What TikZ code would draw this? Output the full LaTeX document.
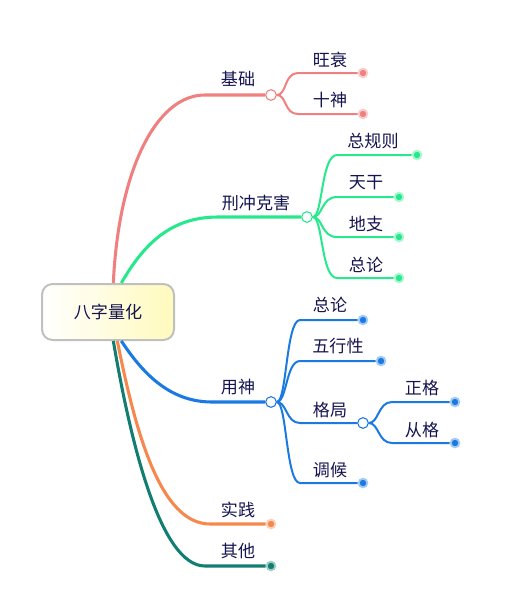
\documentclass[tikz,border=0pt]{standalone}
\usepackage{fontspec}
\setmainfont{Noto Sans CJK SC}
\definecolor{jcred}{RGB}{240,128,128}
\definecolor{xcgreen}{RGB}{40,232,140}
\definecolor{ysblue}{RGB}{26,122,226}
\definecolor{sjorange}{RGB}{246,136,78}
\definecolor{qtteal}{RGB}{18,125,115}
\definecolor{ink}{RGB}{20,20,80}
\definecolor{rootgray}{RGB}{192,192,192}
\definecolor{rootyellow}{RGB}{255,250,188}

\begin{document}
\begin{tikzpicture}[x=0.75pt,y=-0.75pt,
   lbl/.style={text=ink,font=\fontsize{12.8}{15}\selectfont,inner sep=0pt},
   knob/.style={circle,draw=#1,fill=white,line width=0.8pt,minimum size=8pt,inner sep=0pt},
   leaf/.style={circle,fill=#1,draw=#1!40,line width=1.4pt,minimum size=6.5pt,inner sep=0pt},
   trunk/.style={#1,line width=2.3pt},
   twig/.style={#1,line width=1.5pt}]
   \useasboundingbox (0,0) rectangle (530,600);
   \node[lbl,draw=rootgray,line width=1.5pt,rounded corners=8pt,left color=white,right color=rootyellow,
         minimum width=99pt,minimum height=42pt] (root) at (108,312) {八字量化};
   % first level
   \node[knob=jcred]   (jc) at (271,95)  {};
   \node[knob=xcgreen] (xc) at (307,217) {};
   \node[knob=ysblue]  (ys) at (271,402) {};
   \node[leaf=sjorange] (sj) at (271,524) {};
   \node[leaf=qtteal]   (qt) at (271,566) {};
   \coordinate (jc-b) at (205,95);
   \coordinate (xc-b) at (218,217);
   \coordinate (ys-b) at (212,402);
   \coordinate (sj-b) at (210,524);
   \coordinate (qt-b) at (205,566);
   \draw[trunk=jcred]    ([xshift=4pt]root.north) .. controls +(5,-110) and +(-50,0) .. (jc-b) -- (jc);
   \draw[trunk=xcgreen]  ([xshift=10pt]root.north) .. controls +(22,-38) and +(-48,0) .. (xc-b) -- (xc);
   \draw[trunk=ysblue]   ([xshift=10pt]root.south) .. controls +(20,30) and +(-44,0) .. (ys-b) -- (ys);
   \draw[trunk=sjorange] ([xshift=7pt]root.south) .. controls +(18,90) and +(-50,0) .. (sj-b) -- (sj);
   \draw[trunk=qtteal]   ([xshift=4pt]root.south) .. controls +(17,100) and +(-45,0) .. (qt-b) -- (qt);
   \node[lbl] (jc-t) at (238,79)  {基础};
   \node[lbl] (xc-t) at (256,203) {刑冲克害};
   \node[lbl] (ys-t) at (238,387) {用神};
   \node[lbl] (sj-t) at (238,510) {实践};
   \node[lbl] (qt-t) at (238,551) {其他};
   % 基础
   \node[leaf=jcred] (jc-1) at (363,73)  {};
   \node[leaf=jcred] (jc-2) at (363,114) {};
   \coordinate (jc-1b) at (298,73);
   \coordinate (jc-2b) at (298,114);
   \draw[twig=jcred] (jc.east) .. controls +(10,0) and +(-14,0) .. (jc-1b) -- (jc-1);
   \draw[twig=jcred] (jc.east) .. controls +(10,0) and +(-14,0) .. (jc-2b) -- (jc-2);
   \node[lbl] (jc-1t) at (330,60)  {旺衰};
   \node[lbl] (jc-2t) at (330,100) {十神};
   % 刑冲克害
   \node[leaf=xcgreen] (xc-1) at (417,155) {};
   \node[leaf=xcgreen] (xc-2) at (399,197) {};
   \node[leaf=xcgreen] (xc-3) at (399,237) {};
   \node[leaf=xcgreen] (xc-4) at (399,278) {};
   \coordinate (xc-1b) at (337,155);
   \coordinate (xc-2b) at (337,197);
   \coordinate (xc-3b) at (337,237);
   \coordinate (xc-4b) at (337,278);
   \draw[twig=xcgreen] (xc.east) .. controls +(10,0) and +(-16,0) .. (xc-1b) -- (xc-1);
   \draw[twig=xcgreen] (xc.east) .. controls +(10,0) and +(-16,0) .. (xc-2b) -- (xc-2);
   \draw[twig=xcgreen] (xc.east) .. controls +(10,0) and +(-16,0) .. (xc-3b) -- (xc-3);
   \draw[twig=xcgreen] (xc.east) .. controls +(10,0) and +(-16,0) .. (xc-4b) -- (xc-4);
   \node[lbl] (xc-1t) at (373,141) {总规则};
   \node[lbl] (xc-2t) at (366,183) {天干};
   \node[lbl] (xc-3t) at (366,224) {地支};
   \node[lbl] (xc-4t) at (366,265) {总论};
   % 用神
   \node[leaf=ysblue] (ys-1) at (363,320) {};
   \node[leaf=ysblue] (ys-2) at (381,361) {};
   \node[knob=ysblue] (gj)   at (363,423) {};
   \node[leaf=ysblue] (ys-4) at (363,483) {};
   \coordinate (ys-1b) at (300,320);
   \coordinate (ys-2b) at (300,361);
   \coordinate (ys-3b) at (300,423);
   \coordinate (ys-4b) at (300,483);
   \draw[twig=ysblue] (ys.east) .. controls +(10,0) and +(-14,0) .. (ys-1b) -- (ys-1);
   \draw[twig=ysblue] (ys.east) .. controls +(10,0) and +(-14,0) .. (ys-2b) -- (ys-2);
   \draw[twig=ysblue] (ys.east) .. controls +(10,0) and +(-14,0) .. (ys-3b) -- (gj);
   \draw[twig=ysblue] (ys.east) .. controls +(10,0) and +(-14,0) .. (ys-4b) -- (ys-4);
   \node[lbl] (ys-1t) at (330,305) {总论};
   \node[lbl] (ys-2t) at (338,346) {五行性};
   \node[lbl] (ys-3t) at (330,410) {格局};
   \node[lbl] (ys-4t) at (330,470) {调候};
   % 格局
   \node[leaf=ysblue] (gj-1) at (455,402) {};
   \node[leaf=ysblue] (gj-2) at (455,443) {};
   \coordinate (gj-1b) at (392,402);
   \coordinate (gj-2b) at (392,443);
   \draw[twig=ysblue] (gj.east) .. controls +(10,0) and +(-14,0) .. (gj-1b) -- (gj-1);
   \draw[twig=ysblue] (gj.east) .. controls +(10,0) and +(-14,0) .. (gj-2b) -- (gj-2);
   \node[lbl] (gj-1t) at (422,388) {正格};
   \node[lbl] (gj-2t) at (422,430) {从格};
\end{tikzpicture}
\end{document}
